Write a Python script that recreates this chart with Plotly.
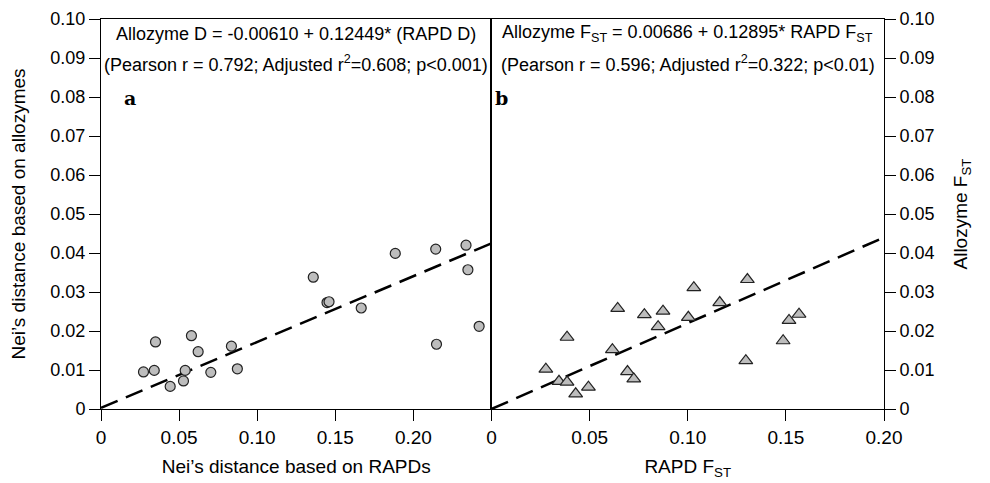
import plotly.graph_objects as go

# panel a: Nei's distance (RAPD vs allozyme)
rapd_d = [0.0272, 0.0341, 0.0349, 0.0443, 0.0528, 0.0539, 0.0579, 0.0622, 0.0703,
          0.0835, 0.0873, 0.1359, 0.1447, 0.1460, 0.1666, 0.1884, 0.2143, 0.2337,
          0.2349, 0.2421, 0.2148]
allo_d = [0.0095, 0.0099, 0.0172, 0.0058, 0.0072, 0.0099, 0.0188, 0.0147, 0.0094,
          0.0161, 0.0103, 0.0338, 0.0273, 0.0275, 0.0259, 0.0399, 0.0410, 0.0420,
          0.0357, 0.0212, 0.0166]
fit_a_x = [0.0, 0.25]
fit_a_y = [0.0003, 0.0425]

# panel b: FST
rapd_fst = [0.0277, 0.0344, 0.0385, 0.0385, 0.0429, 0.0494, 0.0616, 0.0643, 0.0693,
            0.0725, 0.0779, 0.0849, 0.0874, 0.1003, 0.1031, 0.1163, 0.1304, 0.1296,
            0.1486, 0.1516, 0.1567]
allo_fst = [0.0102, 0.0071, 0.0069, 0.0184, 0.0039, 0.0056, 0.0152, 0.0258, 0.0096,
            0.0077, 0.0242, 0.0211, 0.0251, 0.0235, 0.0311, 0.0273, 0.0332, 0.0124,
            0.0175, 0.0227, 0.0243]
fit_b_x = [0.0, 0.20]
fit_b_y = [0.0, 0.0440]

y_ticks = [0, 0.01, 0.02, 0.03, 0.04, 0.05, 0.06, 0.07, 0.08, 0.09, 0.10]
y_labels = ["0", "0.01", "0.02", "0.03", "0.04", "0.05", "0.06", "0.07", "0.08", "0.09", "0.10"]
xa_ticks = [0, 0.05, 0.10, 0.15, 0.20, 0.25]
xa_labels = ["0", "0.05", "0.10", "0.15", "0.20", ""]
xb_ticks = [0, 0.05, 0.10, 0.15, 0.20]
xb_labels = ["0", "0.05", "0.10", "0.15", "0.20"]

FONT = "Liberation Sans, Arial, sans-serif"
SERIF = "DejaVu Serif, Liberation Serif, serif"
split = 0.4987

fig = go.Figure()

fig.add_trace(go.Scatter(x=fit_a_x, y=fit_a_y, mode="lines", xaxis="x", yaxis="y",
                         line=dict(color="black", width=2.5, dash="18px,9px")))
fig.add_trace(go.Scatter(x=rapd_d, y=allo_d, mode="markers", xaxis="x", yaxis="y",
                         marker=dict(symbol="circle", size=10, color="#bdbdbd",
                                     line=dict(color="#222", width=1.2))))
fig.add_trace(go.Scatter(x=fit_b_x, y=fit_b_y, mode="lines", xaxis="x2", yaxis="y2",
                         line=dict(color="black", width=2.5, dash="18px,9px")))
fig.add_trace(go.Scatter(x=rapd_fst, y=allo_fst, mode="markers", xaxis="x2", yaxis="y2",
                         marker=dict(symbol="triangle-up", size=12, color="#bdbdbd",
                                     line=dict(color="#222", width=1.2))))

axis_common = dict(showgrid=False, zeroline=False, showline=True, mirror=True,
                   linecolor="black", linewidth=1, ticks="outside", ticklen=11,
                   tickcolor="black", automargin=False)

# page body adds an 8px offset, margins compensate for it
fig.update_layout(
    width=990, height=483,
    margin=dict(l=93, r=114, t=11, b=82),
    plot_bgcolor="white", paper_bgcolor="white",
    showlegend=False,
    font=dict(family=FONT, color="black", size=18),
    xaxis=dict(domain=[0, split], range=[0, 0.25], anchor="y",
               tickvals=xa_ticks, ticktext=xa_labels, tickfont=dict(size=19),
               title=dict(text="Nei\u2019s distance based on RAPDs", standoff=12,
                          font=dict(size=19)),
               **axis_common),
    xaxis2=dict(domain=[split, 1], range=[0, 0.20], anchor="y2",
                tickvals=xb_ticks, ticktext=xb_labels, tickfont=dict(size=19),
                title=dict(text="RAPD F<sub>ST</sub>", standoff=12,
                           font=dict(size=19)),
                **axis_common),
    yaxis=dict(range=[0, 0.10], anchor="x", side="left",
               tickvals=y_ticks, ticktext=y_labels, tickfont=dict(size=18),
               title=dict(text="Nei\u2019s distance based on allozymes", standoff=22,
                          font=dict(size=19)),
               **axis_common),
    yaxis2=dict(range=[0, 0.10], anchor="x2", side="right",
                tickvals=y_ticks, ticktext=y_labels, tickfont=dict(size=18),
                title=dict(text="Allozyme F<sub>ST</sub>", standoff=20,
                           font=dict(size=19)),
                **axis_common),
)

fig.add_annotation(x=0.5, y=0.0962, xref="x domain", yref="y", yanchor="middle",
                   text="Allozyme D = -0.00610 + 0.12449* (RAPD D)",
                   showarrow=False, font=dict(size=18))
fig.add_annotation(x=0.5, y=0.0886, xref="x domain", yref="y", yanchor="middle",
                   text="(Pearson r = 0.792; Adjusted r<sup>2</sup>=0.608; p<0.001)",
                   showarrow=False, font=dict(size=18))
fig.add_annotation(x=0.5, y=0.0962, xref="x2 domain", yref="y2", yanchor="middle",
                   text="Allozyme F<sub>ST</sub> = 0.00686 + 0.12895* RAPD F<sub>ST</sub>",
                   showarrow=False, font=dict(size=18))
fig.add_annotation(x=0.5, y=0.0886, xref="x2 domain", yref="y2", yanchor="middle",
                   text="(Pearson r = 0.596; Adjusted r<sup>2</sup>=0.322; p<0.01)",
                   showarrow=False, font=dict(size=18))
fig.add_annotation(x=0.055, y=0.0798, xref="x domain", yref="y", xanchor="left",
                   text="<b>a</b>", showarrow=False, font=dict(family=SERIF, size=19))
fig.add_annotation(x=0.005, y=0.0798, xref="x2 domain", yref="y2", xanchor="left",
                   text="<b>b</b>", showarrow=False, font=dict(family=SERIF, size=19))

fig.write_html("out.html")
